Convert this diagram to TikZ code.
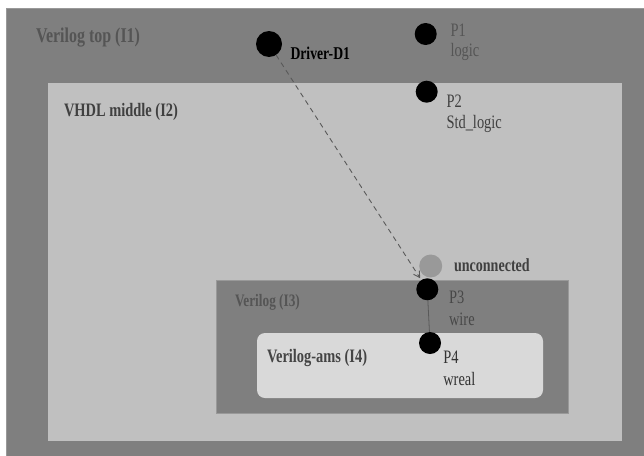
\documentclass[tikz,border=0pt]{standalone}
\usepackage{fontspec}
\setmainfont{Liberation Serif}[FakeStretch=0.76]
\usetikzlibrary{arrows.meta}

\definecolor{darkfill}{HTML}{7F7F7F}
\definecolor{midfill}{HTML}{C0C0C0}
\definecolor{lightfill}{HTML}{D9D9D9}
\definecolor{edgegray}{HTML}{999999}
\definecolor{txtdim}{HTML}{555555}
\definecolor{txtdark}{HTML}{404040}
\definecolor{wiregray}{HTML}{595959}

\tikzset{
  block/.style={rectangle, anchor=north west, inner sep=0pt, outer sep=0pt},
  port/.style={circle, fill=black, inner sep=0pt, minimum size=22pt},
  lbl/.style={anchor=base west, inner sep=0pt, outer sep=0pt},
  boxlbl/.style={lbl, font=\fontsize{19}{22}\selectfont\bfseries},
  portlbl/.style={lbl, font=\fontsize{19}{22}\selectfont},
}

\begin{document}
\begin{tikzpicture}[x=1pt, y=-1pt]
\useasboundingbox (0,0) rectangle (644,455);
\fill[white] (0,0) rectangle (644,455);

% nested instance blocks
\node[block, fill=darkfill, draw=edgegray, line width=0.8pt,
      minimum width=640pt, minimum height=450pt] (I1) at (6.5,8) {};
\node[block, fill=midfill, minimum width=574.5pt, minimum height=358.5pt] (I2) at (47.5,82.5) {};
\node[block, fill=darkfill, draw=edgegray, line width=0.6pt,
      minimum width=352pt, minimum height=133pt] (I3) at (216,280) {};
\node[block, fill=lightfill, rounded corners=8pt,
      minimum width=286pt, minimum height=65pt] (I4) at (257,333) {};

% block titles
\node[boxlbl, text=txtdim, font=\fontsize{21}{24}\selectfont\bfseries] (tI1) at (36,42) {Verilog top (I1)};
\node[boxlbl, text=txtdark] (tI2) at (64,116) {VHDL middle (I2)};
\node[boxlbl, text=txtdim, font=\fontsize{17.5}{20}\selectfont\bfseries] (tI3) at (235,306.7) {Verilog (I3)};
\node[boxlbl, text=txtdark!80!txtdim] (tI4) at (267,362) {Verilog-ams (I4)};

% ports and driver
\node[port, minimum size=26pt] (D1) at (269,44) {};
\node[port] (P1) at (425.7,34) {};
\node[port] (P2) at (426.7,91.7) {};
\node[port, fill=edgegray, minimum size=23pt] (U) at (430.7,266) {};
\node[port] (P3) at (427.3,289.3) {};
\node[port] (P4) at (430,343) {};

% port labels
\node[boxlbl, text=black, font=\fontsize{18}{21}\selectfont\bfseries] (tD1) at (290.5,59) {Driver-D1};
\node[portlbl, text=txtdim] (tP1a) at (450.5,36.7) {P1};
\node[portlbl, text=txtdim] (tP1b) at (450.5,56.7) {logic};
\node[portlbl, text=txtdark] (tP2a) at (446.5,107.3) {P2};
\node[portlbl, text=txtdark] (tP2b) at (446.5,128) {Std\_logic};
\node[boxlbl, text=txtdark, font=\fontsize{18.5}{21}\selectfont\bfseries] (tU) at (454,271.7) {unconnected};
\node[portlbl, text=txtdim!85!black] (tP3a) at (449,303) {P3};
\node[portlbl, text=txtdim!85!black] (tP3b) at (449,325) {wire};
\node[portlbl, text=txtdark!80!black] (tP4a) at (443.3,363) {P4};
\node[portlbl, text=txtdark!80!black] (tP4b) at (443.3,385.7) {wreal};

% connections
\draw[wiregray, line width=0.9pt, dash pattern=on 5pt off 4pt,
      -{Straight Barb[length=6pt, width=7pt]}, shorten >=2pt] (D1) -- (P3);
\draw[wiregray, line width=0.8pt] (P3) -- (P4);
\end{tikzpicture}
\end{document}
